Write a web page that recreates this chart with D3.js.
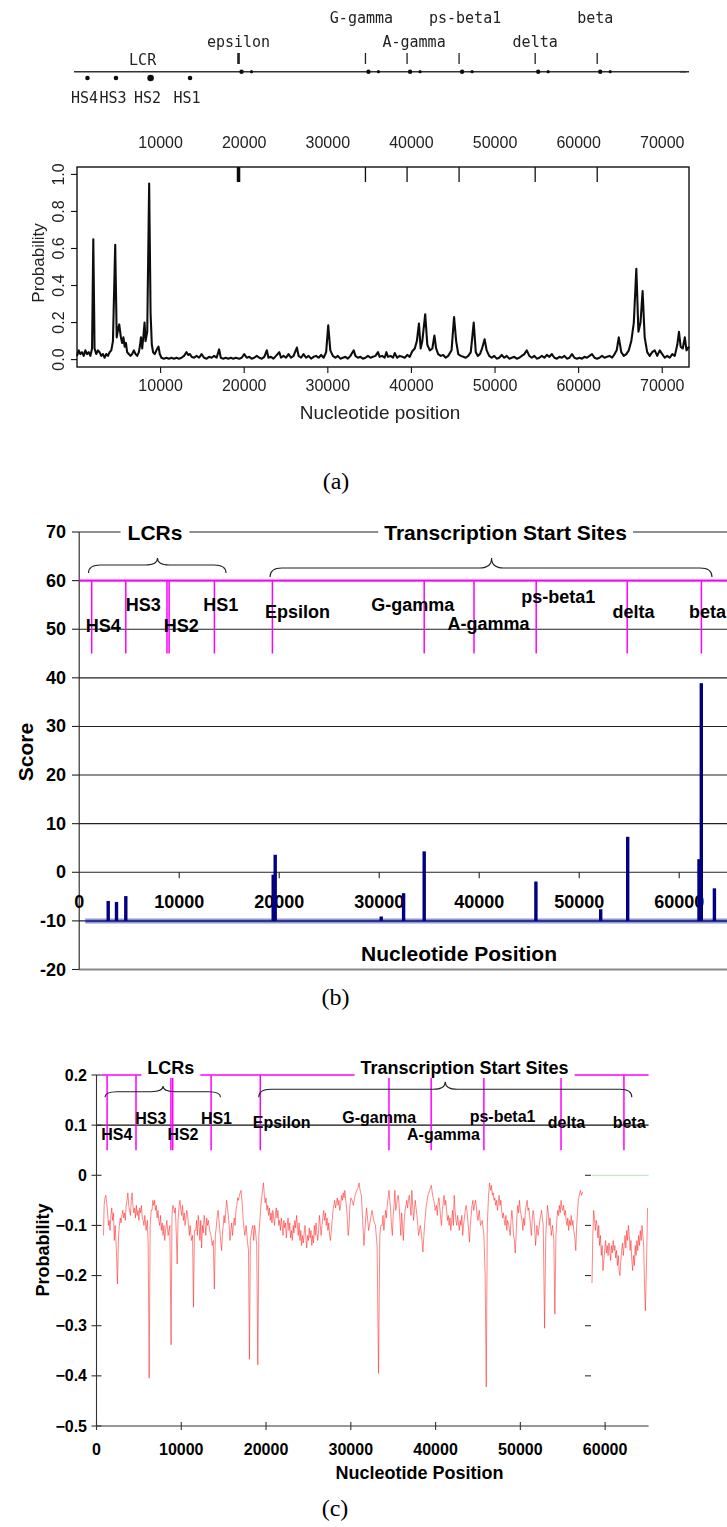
<!DOCTYPE html>
<html><head><meta charset="utf-8">
<script src="https://cdn.jsdelivr.net/npm/d3@7/dist/d3.min.js"></script>
<style>
html,body{margin:0;padding:0;background:#fff;}
svg{display:block;}
</style></head><body>
<script>
// ---------- shared regulatory sites (bp) ----------
const siteNames = ["HS4","HS3","HS2","HS1","Epsilon","G-gamma","A-gamma","ps-beta1","delta","beta"];
const siteLinePos = [1250, 4660, 8780, 8990, 13520, 19320, 34500, 39480, 45700, 54800, 62220];
const siteLabelPos = [2400, 6400, 10200, 14150, 21840, 33350, 40930, 47900, 55440, 62830];
const siteLabelLevelB = [50.7, 54.9, 50.7, 54.9, 53.6, 55.0, 51.1, 56.7, 53.6, 53.6];
const siteLabelLevelC = [0.082, 0.1135, 0.082, 0.1135, 0.1045, 0.115, 0.082, 0.118, 0.1045, 0.1045];

// ---------- panel (a): gene map + posterior probability ----------
const lcrNames = ["HS4","HS3","HS2","HS1"];
const lcrPos = [1250, 4660, 8800, 13520];
const geneNames = ["epsilon","G-gamma","A-gamma","ps-beta1","delta","beta"];
const genePos = [19320, 34500, 39480, 45700, 54800, 62220];
const tickAX = [10000,20000,30000,40000,50000,60000,70000];
const tickAY = [0,0.2,0.4,0.6,0.8,1.0];
const probTraceA = [
[0,0.02],[200,0.05],[400,0.03],[600,0.04],[800,0.02],[1000,0.05],[1200,0.03],[1400,0.04],[1600,0.02],[1800,0.06],
[1950,0.65],[2100,0.06],[2300,0.03],[2500,0.05],[2700,0.04],[2900,0.02],[3100,0.03],[3300,0.01],[3500,0.03],[3700,0.02],
[3900,0.04],[4100,0.05],[4300,0.1],[4570,0.62],[4750,0.12],[4900,0.16],[5050,0.19],[5250,0.12],[5400,0.09],[5550,0.12],
[5700,0.07],[5850,0.09],[6000,0.04],[6200,0.03],[6400,0.02],[6600,0.03],[6800,0.05],[7000,0.03],[7200,0.02],[7400,0.04],
[7550,0.08],[7650,0.12],[7800,0.06],[7950,0.13],[8080,0.2],[8200,0.1],[8400,0.15],[8630,0.95],[8800,0.25],[8950,0.08],
[9100,0.04],[9300,0.03],[9500,0.05],[9750,0.07],[9900,0.03],[10100,0.01],[10400,0.005],[10700,0.01],[11000,0.005],[11300,0.01],
[11600,0.005],[11900,0.01],[12200,0.005],[12500,0.01],[12800,0.02],[13100,0.04],[13300,0.025],[13500,0.03],[13700,0.015],[14000,0.01],
[14300,0.02],[14600,0.01],[14900,0.03],[15200,0.01],[15500,0.005],[15800,0.015],[16100,0.01],[16400,0.02],[16700,0.01],[17000,0.055],
[17200,0.01],[17500,0.005],[17800,0.01],[18100,0.005],[18400,0.01],[18700,0.005],[19000,0.01],[19400,0.005],[19700,0.01],[20000,0.03],
[20300,0.01],[20600,0.015],[20900,0.005],[21200,0.01],[21500,0.02],[21800,0.01],[22100,0.005],[22400,0.015],[22700,0.05],[22900,0.01],
[23200,0.015],[23500,0.005],[23800,0.02],[24200,0.04],[24400,0.01],[24700,0.02],[25000,0.01],[25300,0.03],[25600,0.01],[25900,0.02],
[26300,0.065],[26500,0.02],[26800,0.01],[27100,0.03],[27400,0.01],[27700,0.02],[28000,0.005],[28300,0.015],[28600,0.02],[28900,0.01],
[29200,0.025],[29500,0.01],[29800,0.04],[30050,0.185],[30300,0.05],[30600,0.02],[30900,0.01],[31200,0.02],[31500,0.005],[31800,0.01],
[32100,0.015],[32400,0.005],[32700,0.02],[33100,0.05],[33300,0.02],[33600,0.01],[33900,0.015],[34200,0.005],[34500,0.01],[34800,0.02],
[35100,0.01],[35400,0.015],[35700,0.02],[36000,0.04],[36200,0.015],[36500,0.02],[36800,0.01],[37000,0.04],[37200,0.015],[37500,0.02],
[37800,0.01],[38000,0.035],[38300,0.01],[38600,0.02],[38900,0.015],[39200,0.01],[39500,0.025],[39800,0.015],[40100,0.045],[40400,0.06],
[40650,0.1],[40900,0.195],[41100,0.06],[41300,0.1],[41650,0.245],[41900,0.08],[42200,0.05],[42500,0.06],[42750,0.13],[42950,0.06],
[43200,0.03],[43500,0.02],[43800,0.025],[44100,0.01],[44400,0.02],[44800,0.05],[45100,0.23],[45350,0.1],[45600,0.03],[45900,0.02],
[46200,0.015],[46500,0.01],[46800,0.02],[47100,0.04],[47450,0.2],[47700,0.04],[47950,0.02],[48200,0.03],[48450,0.06],[48750,0.11],
[49000,0.05],[49300,0.02],[49600,0.01],[49900,0.02],[50200,0.005],[50500,0.01],[50800,0.025],[51100,0.01],[51400,0.02],[51700,0.005],
[52000,0.01],[52300,0.015],[52600,0.005],[52900,0.01],[53200,0.02],[53500,0.03],[53800,0.05],[54100,0.02],[54400,0.01],[54700,0.02],
[55000,0.005],[55300,0.01],[55600,0.02],[55900,0.01],[56200,0.025],[56500,0.015],[56800,0.03],[57100,0.01],[57400,0.005],[57700,0.015],
[58000,0.01],[58300,0.02],[58600,0.005],[58900,0.01],[59200,0.03],[59500,0.01],[59800,0.005],[60100,0.01],[60400,0.005],[60700,0.015],
[61000,0.01],[61300,0.02],[61600,0.03],[61900,0.01],[62200,0.005],[62500,0.01],[62800,0.02],[63100,0.01],[63400,0.015],[63700,0.02],
[64000,0.01],[64300,0.03],[64550,0.05],[64800,0.12],[65100,0.04],[65400,0.02],[65700,0.03],[66000,0.05],[66300,0.1],[66600,0.2],
[66900,0.49],[67150,0.15],[67400,0.2],[67650,0.37],[67900,0.12],[68200,0.04],[68500,0.02],[68800,0.04],[69100,0.05],[69400,0.02],
[69700,0.05],[70000,0.03],[70300,0.01],[70600,0.02],[70900,0.01],[71200,0.03],[71500,0.02],[71800,0.08],[72000,0.15],[72200,0.07],
[72450,0.06],[72700,0.12],[72900,0.05],[73200,0.07]
];

// ---------- panel (b): motif scores ----------
const scorePos = [2900, 3730, 4660, 19400, 19600, 30200, 32440, 34500, 45670, 52150, 54850, 61980, 62210, 63520];
const scoreVal = [-5.9, -6.1, -4.9, -0.5, 3.6, -9.1, -4.3, 4.3, -1.9, -7.6, 7.3, 2.7, 38.9, -3.3];
const scoreBase = -10;
const tickBX = [0,10000,20000,30000,40000,50000,60000];
const tickBY = [-20,-10,0,10,20,30,40,50,60,70];

// ---------- panel (c): probability trace ----------
const probTraceC1 = [
[825,-0.12],[900,-0.06],[1000,-0.045],[1100,-0.04],[1200,-0.055],[1300,-0.07],[1400,-0.1],[1500,-0.09],[1600,-0.11],[1700,-0.08],
[1800,-0.065],[1900,-0.09],[2000,-0.075],[2100,-0.13],[2200,-0.1],[2350,-0.15],[2470,-0.217],[2600,-0.12],[2700,-0.1],[2800,-0.085],
[2900,-0.095],[3000,-0.08],[3100,-0.07],[3200,-0.085],[3300,-0.075],[3400,-0.09],[3500,-0.06],[3600,-0.05],[3700,-0.035],[3800,-0.06],
[3900,-0.07],[4000,-0.08],[4100,-0.05],[4200,-0.035],[4300,-0.06],[4400,-0.075],[4500,-0.065],[4600,-0.085],[4700,-0.06],[4800,-0.08],
[4900,-0.07],[5000,-0.09],[5100,-0.065],[5200,-0.075],[5300,-0.06],[5400,-0.085],[5500,-0.09],[5600,-0.1],[5700,-0.08],[5850,-0.11],
[6000,-0.09],[6100,-0.14],[6215,-0.405],[6330,-0.1],[6450,-0.07],[6550,-0.07],[6650,-0.05],[6750,-0.06],[6850,-0.05],[6950,-0.07],
[7050,-0.06],[7150,-0.085],[7250,-0.07],[7350,-0.09],[7450,-0.1],[7550,-0.08],[7650,-0.11],[7750,-0.095],[7850,-0.12],[7950,-0.1],
[8050,-0.13],[8150,-0.11],[8300,-0.09],[8450,-0.12],[8650,-0.1],[8800,-0.338],[8900,-0.08],[9000,-0.06],[9100,-0.065],[9200,-0.075],
[9300,-0.065],[9420,-0.12],[9515,-0.177],[9620,-0.09],[9750,-0.06],[9850,-0.05],[9950,-0.07],[10050,-0.08],[10150,-0.06],[10250,-0.09],
[10350,-0.075],[10450,-0.1],[10550,-0.085],[10650,-0.07],[10750,-0.08],[10850,-0.1],[10950,-0.12],[11050,-0.1],[11200,-0.13],[11330,-0.12],
[11440,-0.263],[11550,-0.11],[11700,-0.11],[11800,-0.09],[11900,-0.12],[12000,-0.08],[12100,-0.1],[12200,-0.13],[12300,-0.09],[12400,-0.145],
[12500,-0.1],[12600,-0.115],[12700,-0.08],[12800,-0.095],[12900,-0.12],[13000,-0.085],[13100,-0.1],[13200,-0.09],[13350,-0.11],[13500,-0.12],
[13650,-0.14],[13780,-0.13],[13900,-0.227],[14020,-0.12],[14150,-0.1],[14250,-0.08],[14350,-0.07],[14450,-0.09],[14550,-0.11],[14650,-0.13],
[14750,-0.15],[14850,-0.12],[14950,-0.1],[15050,-0.08],[15150,-0.095],[15250,-0.07],[15350,-0.05],[15450,-0.065],[15550,-0.08],[15650,-0.1],
[15750,-0.13],[15850,-0.11],[15950,-0.095],[16050,-0.12],[16150,-0.1],[16250,-0.085],[16350,-0.1],[16450,-0.07],[16550,-0.06],[16650,-0.045],
[16750,-0.05],[16850,-0.04],[17050,-0.03],[17200,-0.06],[17350,-0.1],[17500,-0.12],[17650,-0.1],[17800,-0.13],[17930,-0.15],[18040,-0.367],
[18150,-0.13],[18300,-0.11],[18450,-0.1],[18550,-0.13],[18650,-0.1],[18750,-0.11],[18900,-0.14],[19030,-0.378],[19150,-0.12],[19400,-0.06],
[19550,-0.035],[19700,-0.015],[19800,-0.04],[19900,-0.055],[20000,-0.045],[20100,-0.07],[20200,-0.06],[20300,-0.08],[20400,-0.065],[20500,-0.09],
[20600,-0.075],[20700,-0.095],[20800,-0.07],[20900,-0.085],[21000,-0.1],[21100,-0.08],[21200,-0.065],[21300,-0.085],[21400,-0.07],[21500,-0.1],
[21600,-0.09],[21700,-0.11],[21800,-0.085],[21900,-0.1],[22000,-0.12],[22100,-0.09],[22200,-0.105],[22300,-0.095],[22400,-0.125],[22500,-0.1],
[22600,-0.085],[22700,-0.11],[22800,-0.095],[22900,-0.125],[23000,-0.11],[23100,-0.13],[23200,-0.1],[23300,-0.115],[23400,-0.09],[23500,-0.105],
[23600,-0.08],[23700,-0.1],[23800,-0.12],[23900,-0.095],[24000,-0.13],[24100,-0.11],[24200,-0.14],[24300,-0.12],[24400,-0.135],[24500,-0.115],
[24600,-0.1],[24700,-0.125],[24800,-0.145],[24900,-0.12],[25000,-0.13],[25100,-0.105],[25200,-0.125],[25300,-0.11],[25400,-0.14],[25500,-0.12],
[25600,-0.135],[25700,-0.1],[25800,-0.12],[25900,-0.095],[26000,-0.115],[26100,-0.13],[26200,-0.11],[26300,-0.08],[26400,-0.1],[26500,-0.12],
[26600,-0.1],[26700,-0.085],[26800,-0.07],[26900,-0.09],[27000,-0.075],[27100,-0.1],[27200,-0.085],[27300,-0.11],[27400,-0.095],[27500,-0.12],
[27600,-0.13],[27700,-0.11],[27800,-0.09],[27900,-0.07],[28000,-0.06],[28100,-0.05],[28200,-0.065],[28300,-0.055],[28400,-0.045],[28500,-0.06],
[28600,-0.05],[28700,-0.07],[28800,-0.06],[28900,-0.04],[29000,-0.05],[29100,-0.035],[29200,-0.045],[29300,-0.03],[29400,-0.05],[29500,-0.065],
[29600,-0.09],[29700,-0.12],[29800,-0.1],[29900,-0.06],[30000,-0.045],[30150,-0.05],[30300,-0.06],[30500,-0.04],[30700,-0.03],[30850,-0.025],
[30970,-0.015],[31100,-0.03],[31250,-0.04],[31400,-0.09],[31550,-0.14],[31700,-0.1],[31850,-0.065],[31950,-0.08],[32100,-0.11],[32300,-0.09],
[32500,-0.07],[32700,-0.09],[32900,-0.1],[33100,-0.14],[33270,-0.395],[33420,-0.12],[33550,-0.1],[33700,-0.1],[33800,-0.08],[33900,-0.11],
[34000,-0.09],[34100,-0.07],[34200,-0.085],[34300,-0.06],[34400,-0.045],[34500,-0.03],[34600,-0.05],[34700,-0.07],[34800,-0.1],[34900,-0.12],
[35000,-0.08],[35100,-0.06],[35200,-0.03],[35300,-0.07],[35400,-0.06],[35500,-0.045],[35600,-0.04],[35700,-0.06],[35800,-0.09],[35900,-0.12],
[36000,-0.075],[36100,-0.1],[36200,-0.13],[36300,-0.09],[36400,-0.07],[36500,-0.06],[36600,-0.05],[36700,-0.065],[36800,-0.05],[36900,-0.04],
[37000,-0.06],[37100,-0.08],[37200,-0.03],[37300,-0.06],[37400,-0.09],[37500,-0.07],[37600,-0.05],[37700,-0.065],[37800,-0.08],[37900,-0.1],
[38000,-0.12],[38200,-0.1],[38350,-0.12],[38500,-0.153],[38700,-0.1],[38900,-0.06],[39100,-0.04],[39300,-0.03],[39500,-0.02],[39650,-0.04],
[39800,-0.05],[39950,-0.07],[40100,-0.06],[40200,-0.08],[40300,-0.055],[40400,-0.045],[40500,-0.065],[40600,-0.085],[40700,-0.1],[40800,-0.07],
[40900,-0.055],[41000,-0.04],[41100,-0.06],[41200,-0.05],[41300,-0.07],[41400,-0.09],[41500,-0.08],[41600,-0.1],[41700,-0.085],[41800,-0.11],
[41900,-0.09],[42000,-0.07],[42100,-0.1],[42200,-0.04],[42300,-0.07],[42400,-0.09],[42500,-0.1],[42600,-0.08],[42700,-0.095],[42800,-0.11],
[42900,-0.09],[43000,-0.1],[43100,-0.08],[43200,-0.12],[43300,-0.1],[43400,-0.085],[43500,-0.07],[43600,-0.06],[43700,-0.07],[43800,-0.09],
[43900,-0.11],[44000,-0.133],[44100,-0.1],[44200,-0.08],[44300,-0.06],[44400,-0.05],[44500,-0.07],[44600,-0.06],[44700,-0.05],[44800,-0.06],
[44900,-0.08],[45000,-0.09],[45150,-0.07],[45300,-0.1],[45500,-0.09],[45700,-0.12],[45850,-0.2],[45980,-0.422],[46100,-0.1],[46250,-0.04],
[46370,-0.015],[46500,-0.03],[46600,-0.02],[46700,-0.04],[46800,-0.035],[46900,-0.05],[47000,-0.045],[47100,-0.06],[47200,-0.05],[47300,-0.07],
[47400,-0.055],[47500,-0.04],[47600,-0.06],[47700,-0.05],[47800,-0.07],[47900,-0.085],[48000,-0.075],[48100,-0.09],[48200,-0.1],[48300,-0.08],
[48400,-0.11],[48500,-0.09],[48650,-0.1],[48800,-0.12],[48900,-0.09],[49000,-0.07],[49100,-0.09],[49200,-0.12],[49300,-0.13],[49400,-0.155],
[49500,-0.12],[49600,-0.08],[49700,-0.06],[49800,-0.075],[49900,-0.05],[50000,-0.07],[50100,-0.08],[50200,-0.09],[50300,-0.11],[50400,-0.085],
[50500,-0.1],[50600,-0.07],[50700,-0.06],[50800,-0.05],[50900,-0.07],[51000,-0.065],[51100,-0.08],[51200,-0.1],[51300,-0.12],[51400,-0.09],
[51500,-0.07],[51600,-0.08],[51700,-0.11],[51800,-0.14],[51950,-0.1],[52100,-0.12],[52300,-0.09],[52500,-0.07],[52700,-0.1],[52860,-0.305],
[53000,-0.12],[53100,-0.09],[53200,-0.06],[53300,-0.075],[53400,-0.1],[53500,-0.085],[53650,-0.12],[53800,-0.1],[53950,-0.13],[54070,-0.277],
[54200,-0.12],[54300,-0.09],[54400,-0.07],[54500,-0.08],[54600,-0.06],[54700,-0.075],[54800,-0.05],[54900,-0.065],[55000,-0.07],[55100,-0.06],
[55200,-0.08],[55300,-0.07],[55400,-0.09],[55500,-0.1],[55600,-0.085],[55700,-0.11],[55800,-0.09],[55900,-0.1],[56000,-0.08],[56100,-0.1],
[56200,-0.09],[56300,-0.11],[56400,-0.12],[56540,-0.15],[56650,-0.1],[56750,-0.07],[56850,-0.05],[56950,-0.04],[57090,-0.03],[57200,-0.04],
[57365,-0.033]
];
const probTraceC2 = [
[58450,-0.215],[58550,-0.12],[58650,-0.07],[58750,-0.085],[58850,-0.11],[58950,-0.09],[59050,-0.1],[59150,-0.125],[59250,-0.1],[59350,-0.14],
[59450,-0.12],[59550,-0.16],[59650,-0.14],[59750,-0.19],[59850,-0.17],[59950,-0.15],[60050,-0.13],[60150,-0.155],[60250,-0.14],[60350,-0.16],
[60450,-0.135],[60550,-0.15],[60650,-0.17],[60750,-0.14],[60850,-0.155],[60950,-0.13],[61050,-0.15],[61150,-0.14],[61250,-0.165],[61350,-0.15],
[61450,-0.18],[61550,-0.16],[61650,-0.19],[61750,-0.2],[61850,-0.17],[61950,-0.15],[62050,-0.135],[62150,-0.16],[62250,-0.14],[62350,-0.12],
[62450,-0.145],[62550,-0.11],[62650,-0.13],[62750,-0.1],[62850,-0.12],[62950,-0.15],[63050,-0.13],[63150,-0.17],[63250,-0.19],[63350,-0.16],
[63450,-0.18],[63550,-0.14],[63650,-0.16],[63750,-0.13],[63850,-0.15],[63950,-0.12],[64050,-0.14],[64150,-0.11],[64250,-0.13],[64350,-0.1],
[64450,-0.12],[64550,-0.14],[64650,-0.22],[64750,-0.27],[64850,-0.2],[64950,-0.12],[65000,-0.065]
];
const tickCX = [0,10000,20000,30000,40000,50000,60000];
const tickCY = [0.2,0.1,0,-0.1,-0.2,-0.3,-0.4,-0.5];
const tickC2Y = [0,-0.1,-0.2,-0.3,-0.4];

// ======================================================
const W = 727, H = 1527;
const svg = d3.select("body").append("svg").attr("width", W).attr("height", H)
  .attr("viewBox", `0 0 ${W} ${H}`);
svg.append("rect").attr("width", W).attr("height", H).attr("fill", "#fff");
// the scanned top panel is slightly soft
svg.append("defs").append("filter").attr("id", "soft")
  .append("feGaussianBlur").attr("stdDeviation", 0.45);

const SANS = "'Liberation Sans', Arial, Helvetica, sans-serif";
const SERIF = "'Liberation Serif', 'Times New Roman', serif";
const MONO = "'DejaVu Sans Mono', monospace";

function hline(g, x1, x2, y, stroke, width) {
  return g.append("line").attr("x1", x1).attr("x2", x2).attr("y1", y).attr("y2", y)
    .attr("stroke", stroke).attr("stroke-width", width);
}
function vline(g, x, y1, y2, stroke, width) {
  return g.append("line").attr("x1", x).attr("x2", x).attr("y1", y1).attr("y2", y2)
    .attr("stroke", stroke).attr("stroke-width", width);
}
// curly brace opening downward, tip pointing up
function brace(g, x0, x1, xt, yEnd, yMid, yTip) {
  const r = Math.min(12, (x1 - x0) / 8);
  const p = d3.path();
  p.moveTo(x0, yEnd);
  p.quadraticCurveTo(x0, yMid, x0 + r, yMid);
  p.lineTo(xt - r, yMid);
  p.quadraticCurveTo(xt, yMid, xt, yTip);
  p.quadraticCurveTo(xt, yMid, xt + r, yMid);
  p.lineTo(x1 - r, yMid);
  p.quadraticCurveTo(x1, yMid, x1, yEnd);
  g.append("path").attr("d", p.toString()).attr("fill", "none")
    .attr("stroke", "#222").attr("stroke-width", 1.1);
}
// heading sitting on a line, with a white box that interrupts it
function lineTitle(g, text, x, y, size, pad) {
  const box = g.append("rect").attr("fill", "#fff");
  const t = g.append("text").attr("x", x).attr("y", y)
    .attr("text-anchor", "middle").attr("dominant-baseline", "central")
    .attr("font-family", SANS).attr("font-weight", "bold").attr("font-size", size)
    .attr("fill", "#000").text(text);
  const bb = t.node().getBBox();
  box.attr("x", bb.x - pad).attr("y", bb.y).attr("width", bb.width + 2 * pad).attr("height", bb.height);
}

// ================= PANEL (a) =================
const gA = svg.append("g").attr("filter", "url(#soft)");
const xA = d3.scaleLinear().domain([0, 73200]).range([77, 689]);
const yA = d3.scaleLinear().domain([-0.04, 1.04]).range([367, 167]);

// gene map
const mapY = 71.7;
hline(gA, 74, 689, mapY, "#333", 1.6);
lcrPos.forEach((p, i) => {
  gA.append("circle").attr("cx", xA(p)).attr("cy", 78).attr("r", lcrNames[i] === "HS2" ? 3.3 : 2.3).attr("fill", "#111");
  gA.append("text").attr("x", xA(p) - 3).attr("y", 103).attr("text-anchor", "middle")
    .attr("font-family", MONO).attr("font-size", 15).attr("fill", "#222").text(lcrNames[i]);
});
gA.append("text").attr("x", xA(7850)).attr("y", 65).attr("text-anchor", "middle")
  .attr("font-family", MONO).attr("font-size", 15).attr("fill", "#222").text("LCR");
const mapLabelShift = [0, -4, 7, 6, 0, -2];
genePos.forEach((p, i) => {
  const x = xA(p);
  vline(gA, x, 53, 64, "#222", i === 0 ? 2.6 : 1.3);
  gA.append("circle").attr("cx", x + 3).attr("cy", mapY).attr("r", 2.2).attr("fill", "#111");
  gA.append("circle").attr("cx", x + 13).attr("cy", mapY).attr("r", 1.6).attr("fill", "#111");
  gA.append("text").attr("x", x + mapLabelShift[i]).attr("y", i % 2 === 0 ? 47 : 23)
    .attr("text-anchor", "middle").attr("font-family", MONO).attr("font-size", 15)
    .attr("fill", "#222").text(geneNames[i]);
});
hline(gA, 680, 686, mapY, "#333", 1.6);

// top coordinate labels
tickAX.forEach(v => {
  gA.append("text").attr("x", xA(v)).attr("y", 142).attr("text-anchor", "middle")
    .attr("dominant-baseline", "central").attr("font-family", SANS).attr("font-size", 16)
    .attr("fill", "#222").text(v);
});

// probability plot
gA.append("rect").attr("x", 77).attr("y", 167).attr("width", 612).attr("height", 200)
  .attr("fill", "none").attr("stroke", "#111").attr("stroke-width", 1.4);
genePos.forEach((p, i) => vline(gA, xA(p), 167, 182, "#111", i === 0 ? 3.5 : 1.3));
gA.append("path").datum(probTraceA)
  .attr("d", d3.line().x(d => xA(d[0])).y(d => yA(d[1])))
  .attr("fill", "none").attr("stroke", "#111").attr("stroke-width", 2.1).attr("stroke-linejoin", "round");
tickAY.forEach(v => {
  hline(gA, 71, 77, yA(v), "#111", 1.1);
  gA.append("text").attr("transform", `translate(58.5,${yA(v)}) rotate(-90)`)
    .attr("text-anchor", "middle").attr("dominant-baseline", "central")
    .attr("font-family", SANS).attr("font-size", 16).attr("fill", "#222").text(d3.format(".1f")(v));
});
tickAX.forEach(v => {
  vline(gA, xA(v), 367, 373, "#111", 1.1);
  gA.append("text").attr("x", xA(v)).attr("y", 385).attr("text-anchor", "middle")
    .attr("dominant-baseline", "central").attr("font-family", SANS).attr("font-size", 16)
    .attr("fill", "#222").text(v);
});
gA.append("text").attr("transform", "translate(38.5,263) rotate(-90)")
  .attr("text-anchor", "middle").attr("dominant-baseline", "central")
  .attr("font-family", SANS).attr("font-size", 17).attr("fill", "#222").text("Probability");
gA.append("text").attr("x", 380).attr("y", 412).attr("text-anchor", "middle")
  .attr("dominant-baseline", "central").attr("font-family", SANS).attr("font-size", 19)
  .attr("fill", "#222").text("Nucleotide position");
svg.append("text").attr("x", 336).attr("y", 489).attr("text-anchor", "middle")
  .attr("font-family", SERIF).attr("font-size", 24).attr("fill", "#000").text("(a)");

// ================= PANEL (b) =================
const gB = svg.append("g");
const xB = d3.scaleLinear().domain([0, 65000]).range([79.2, 729.2]);
const yB = d3.scaleLinear().domain([-20, 70]).range([969.5, 532]);

tickBY.forEach(v => {
  hline(gB, 79.2, 727, yB(v), v === -20 ? "#888" : "#222", v === -20 ? 2 : 1.1);
  hline(gB, 72, 79.2, yB(v), "#222", 1.1);
  gB.append("text").attr("x", 66).attr("y", yB(v)).attr("text-anchor", "end")
    .attr("dominant-baseline", "central").attr("font-family", SANS).attr("font-weight", "bold")
    .attr("font-size", 18).attr("fill", "#000").text(v);
});
vline(gB, 79.2, yB(70), yB(-20), "#222", 1.1);

// site markers
hline(gB, 79.2, 727, yB(60), "#ff00ff", 2);
siteLinePos.forEach(p => vline(gB, xB(p), yB(60), yB(45), "#ff00ff", 1.5));
siteNames.forEach((n, i) => {
  gB.append("text").attr("x", xB(siteLabelPos[i])).attr("y", yB(siteLabelLevelB[i]))
    .attr("text-anchor", "middle").attr("dominant-baseline", "central")
    .attr("font-family", SANS).attr("font-weight", "bold").attr("font-size", 18)
    .attr("fill", "#000").text(n);
});
brace(gB, xB(930), xB(14680), xB(7830), 573, 565, 558);
brace(gB, xB(19080), xB(63280), xB(41240), 577, 568, 558);
lineTitle(gB, "LCRs", xB(7580), yB(70), 21, 7);
lineTitle(gB, "Transcription Start Sites", xB(42640), yB(70), 21, 6);

// x axis through zero
tickBX.forEach(v => {
  if (v > 0) vline(gB, xB(v), yB(0), yB(0) + 6, "#222", 1.1);
  gB.append("text").attr("x", xB(v)).attr("y", 901.7).attr("text-anchor", "middle")
    .attr("dominant-baseline", "central").attr("font-family", SANS).attr("font-weight", "bold")
    .attr("font-size", 18).attr("fill", "#000").text(v);
});

// baseline and score bars
hline(gB, xB(600), 727, yB(scoreBase), "#8f96cc", 5);
hline(gB, xB(600), 727, yB(scoreBase), "#2a3590", 2);
gB.selectAll("line.bar").data(scorePos.map((p, i) => [p, scoreVal[i]])).enter()
  .append("line").attr("class", "bar")
  .attr("x1", d => xB(d[0])).attr("x2", d => xB(d[0]))
  .attr("y1", yB(scoreBase)).attr("y2", d => yB(d[1]))
  .attr("stroke", "#000080").attr("stroke-width", 3.4);

gB.append("text").attr("transform", "translate(25,752) rotate(-90)")
  .attr("text-anchor", "middle").attr("dominant-baseline", "central")
  .attr("font-family", SANS).attr("font-weight", "bold").attr("font-size", 21).text("Score");
gB.append("text").attr("x", 459).attr("y", 953).attr("text-anchor", "middle")
  .attr("dominant-baseline", "central").attr("font-family", SANS).attr("font-weight", "bold")
  .attr("font-size", 21).text("Nucleotide Position");
gB.append("text").attr("x", 335.5).attr("y", 1005).attr("text-anchor", "middle")
  .attr("font-family", SERIF).attr("font-size", 24).text("(b)");

// ================= PANEL (c) =================
const gC = svg.append("g");
const xC = d3.scaleLinear().domain([0, 65000]).range([96.5, 647.5]);
const yC = d3.scaleLinear().domain([-0.5, 0.2]).range([1426, 1075]);
const fmtC = v => (v === 0 ? "0" : d3.format(".1f")(v));

hline(gC, 96.5, 648.6, yC(0.1), "#111", 1.1);
hline(gC, 101.5, 648.6, yC(0.2), "#ff00ff", 1.6);
siteLinePos.forEach(p => vline(gC, xC(p), yC(0.2), yC(0.05), "#ff00ff", 1.5));
siteNames.forEach((n, i) => {
  gC.append("text").attr("x", xC(siteLabelPos[i])).attr("y", yC(siteLabelLevelC[i]))
    .attr("text-anchor", "middle").attr("dominant-baseline", "central")
    .attr("font-family", SANS).attr("font-weight", "bold").attr("font-size", 16)
    .attr("fill", "#000").text(n);
});
brace(gC, xC(1000), xC(14630), xC(7850), 1097.3, 1091.7, 1086);
brace(gC, xC(19140), xC(63150), xC(41140), 1097.3, 1089.3, 1081.7);
lineTitle(gC, "LCRs", xC(8770), 1068, 18, 6);
lineTitle(gC, "Transcription Start Sites", xC(43420), 1068, 18, 6);

// axes
vline(gC, 96.5, yC(0.2), yC(-0.5), "#333", 1.1);
hline(gC, 96.5, 648.6, yC(-0.5), "#333", 1.1);
tickCY.forEach(v => {
  hline(gC, 91.5, 101.5, yC(v), "#333", 1.1);
  gC.append("text").attr("x", 87).attr("y", yC(v)).attr("text-anchor", "end")
    .attr("dominant-baseline", "central").attr("font-family", SANS).attr("font-weight", "bold")
    .attr("font-size", 16).attr("fill", "#000").text(fmtC(v));
});
tickCX.forEach(v => {
  vline(gC, xC(v), yC(-0.5) - 4, yC(-0.5) + 4, "#333", 1.1);
  gC.append("text").attr("x", xC(v)).attr("y", 1449).attr("text-anchor", "middle")
    .attr("dominant-baseline", "central").attr("font-family", SANS).attr("font-weight", "bold")
    .attr("font-size", 16).attr("fill", "#000").text(v);
});
// secondary scale stubs for the right-hand segment
tickC2Y.forEach(v => hline(gC, 585, 591, yC(v), "#333", 1.1));
hline(gC, 592, 648.6, yC(0), "#c8e6c9", 1.2);

const lineC = d3.line().x(d => xC(d[0])).y(d => yC(d[1]));
[probTraceC1, probTraceC2].forEach(tr => {
  gC.append("path").datum(tr).attr("d", lineC)
    .attr("fill", "none").attr("stroke", "#ff2020").attr("stroke-width", 1)
    .attr("stroke-opacity", 0.55).attr("stroke-linejoin", "round");
});

gC.append("text").attr("transform", "translate(43,1250) rotate(-90)")
  .attr("text-anchor", "middle").attr("dominant-baseline", "central")
  .attr("font-family", SANS).attr("font-weight", "bold").attr("font-size", 18).text("Probability");
gC.append("text").attr("x", 419.4).attr("y", 1473).attr("text-anchor", "middle")
  .attr("dominant-baseline", "central").attr("font-family", SANS).attr("font-weight", "bold")
  .attr("font-size", 18).text("Nucleotide Position");
gC.append("text").attr("x", 335).attr("y", 1516).attr("text-anchor", "middle")
  .attr("font-family", SERIF).attr("font-size", 24).text("(c)");
</script>
</body></html>
